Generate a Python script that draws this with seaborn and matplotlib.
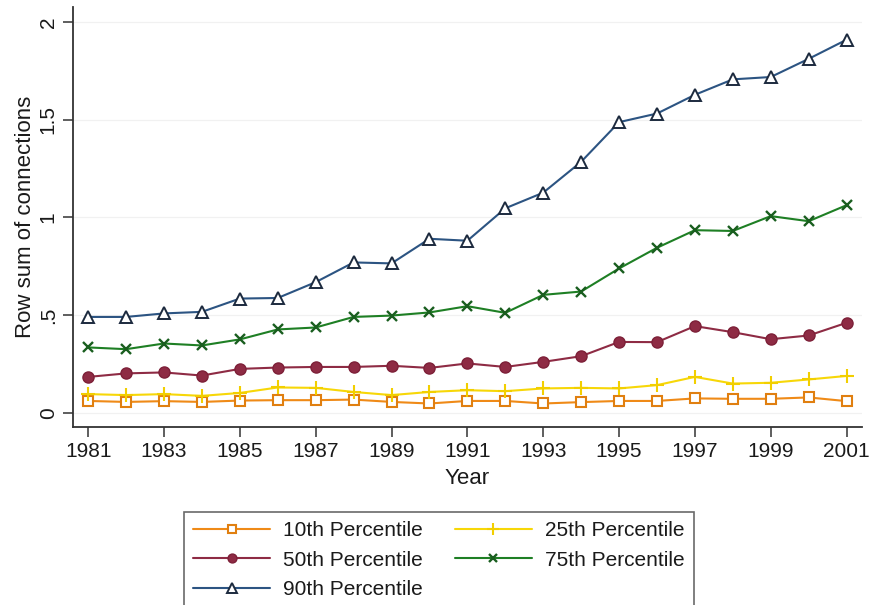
import numpy as np
import pandas as pd
import matplotlib
matplotlib.use("Agg")
import matplotlib.pyplot as plt
import seaborn as sns

years = list(range(1981, 2002))

p10 = [0.061, 0.056, 0.060, 0.056, 0.063, 0.065, 0.065, 0.068, 0.056, 0.048,
       0.061, 0.061, 0.048, 0.055, 0.061, 0.061, 0.074, 0.072, 0.072, 0.079, 0.060]
p25 = [0.096, 0.091, 0.096, 0.087, 0.102, 0.130, 0.128, 0.107, 0.091, 0.107,
       0.116, 0.111, 0.125, 0.128, 0.125, 0.142, 0.184, 0.150, 0.154, 0.171, 0.189]
p50 = [0.184, 0.202, 0.207, 0.191, 0.225, 0.232, 0.235, 0.235, 0.241, 0.230,
       0.253, 0.235, 0.261, 0.290, 0.363, 0.362, 0.444, 0.413, 0.377, 0.396, 0.461]
p75 = [0.335, 0.326, 0.355, 0.345, 0.376, 0.427, 0.437, 0.491, 0.498, 0.514,
       0.546, 0.512, 0.604, 0.621, 0.739, 0.845, 0.935, 0.931, 1.007, 0.981, 1.063]
p90 = [0.491, 0.491, 0.509, 0.517, 0.585, 0.588, 0.669, 0.770, 0.765, 0.891,
       0.881, 1.047, 1.127, 1.285, 1.488, 1.532, 1.628, 1.707, 1.719, 1.812, 1.910]

series_names = ["10th Percentile", "25th Percentile", "50th Percentile",
                "75th Percentile", "90th Percentile"]
x_ticks = list(range(1981, 2002, 2))
y_ticks = [0, 0.5, 1, 1.5, 2]
y_tick_labels = ["0", ".5", "1", "1.5", "2"]

styles = {
    "10th Percentile": dict(color="#ef8a17", marker="s", mfc="white", mec="#e07f10", ms=7, mew=1.5),
    "25th Percentile": dict(color="#f7d708", marker="+", mfc="#f7d708", mec="#f2cf00", ms=10, mew=1.5),
    "50th Percentile": dict(color="#8e2b44", marker="o", mfc="#8e2b44", mec="#7d2038", ms=8, mew=1.0),
    "75th Percentile": dict(color="#1e7f24", marker="x", mfc="#1e7f24", mec="#1a5e1f", ms=6.5, mew=1.7),
    "90th Percentile": dict(color="#2c5482", marker="^", mfc="white", mec="#1c2a3e", ms=9, mew=1.4),
}

df = pd.DataFrame({
    "Year": years * 5,
    "value": p10 + p25 + p50 + p75 + p90,
    "series": sum([[n] * len(years) for n in series_names], []),
})

sns.set_theme(style="white")
plt.rcParams["font.family"] = ["Liberation Sans", "DejaVu Sans"]

fig = plt.figure(figsize=(8.74, 6.05), dpi=100)
ax = fig.add_axes([0.0835, 0.294, 0.9025, 0.694])

handles = {}
for name in series_names:
    st = styles[name]
    sub = df[df["series"] == name]
    sns.lineplot(data=sub, x="Year", y="value", ax=ax, color=st["color"],
                 linewidth=1.5, legend=False)
    line = ax.lines[-1]
    line.set_marker(st["marker"])
    line.set_markersize(st["ms"])
    line.set_markerfacecolor(st["mfc"])
    line.set_markeredgecolor(st["mec"])
    line.set_markeredgewidth(st["mew"])
    handles[name] = line

ax.set_xlim(1980.6, 2001.4)
ax.set_ylim(-0.073, 2.076)
ax.set_xticks(x_ticks)
ax.set_xticklabels([str(t) for t in x_ticks], fontsize=15, color="#1a1a1a")
ax.set_yticks(y_ticks)
ax.set_yticklabels(y_tick_labels, fontsize=15, rotation=90, va="center", color="#1a1a1a")
ax.tick_params(axis="both", direction="out", length=7, width=1.1, color="#333333",
               bottom=True, left=True, pad=4)

ax.grid(axis="y", color="#f1f1f1", linewidth=0.9)
ax.set_axisbelow(True)
for side in ["top", "right"]:
    ax.spines[side].set_visible(False)
for side in ["left", "bottom"]:
    ax.spines[side].set_color("#333333")
    ax.spines[side].set_linewidth(1.3)

ax.set_xlabel("Year", fontsize=16, color="#1a1a1a", labelpad=5)
ax.set_ylabel("Row sum of connections", fontsize=16, color="#1a1a1a", labelpad=2)

order = ["10th Percentile", "50th Percentile", "90th Percentile",
         "25th Percentile", "75th Percentile"]
leg = fig.legend([handles[n] for n in order], order, loc="upper center",
                 bbox_to_anchor=(0.502, 0.171), ncol=2, fontsize=15,
                 frameon=True, fancybox=False, edgecolor="#444444",
                 handlelength=3.7, handletextpad=0.6, columnspacing=1.55,
                 labelspacing=0.5, borderpad=0.45, markerscale=0.8)
leg.get_frame().set_linewidth(1.2)
for t in leg.get_texts():
    t.set_color("#1a1a1a")

fig.savefig("out.png", dpi=100, facecolor="white")
